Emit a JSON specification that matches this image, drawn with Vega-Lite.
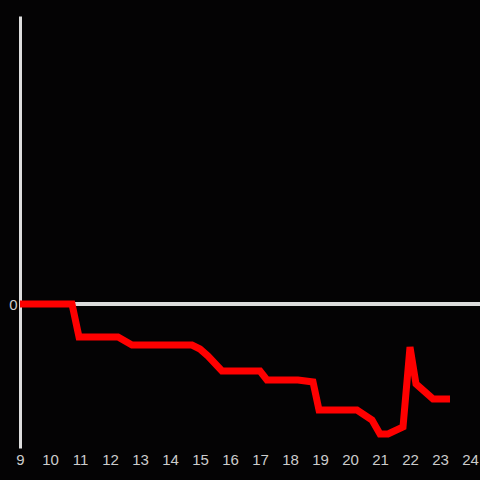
{
  "$schema": "https://vega.github.io/schema/vega-lite/v6.json",
  "width": 460,
  "height": 432,
  "autosize": "none",
  "padding": {"left": 20, "top": 16, "right": 0, "bottom": 32},
  "background": "#040304",
  "config": {"view": {"stroke": null}, "axis": {"labelFont": "Liberation Sans"}},
  "data": {"values": [
    {"x": 9, "y": 0},
    {"x": 10.733, "y": 0},
    {"x": 10.967, "y": -33},
    {"x": 12.267, "y": -33},
    {"x": 12.733, "y": -41},
    {"x": 14.733, "y": -41},
    {"x": 15.0, "y": -45},
    {"x": 15.267, "y": -52},
    {"x": 15.733, "y": -67},
    {"x": 17.0, "y": -67},
    {"x": 17.233, "y": -76},
    {"x": 18.267, "y": -76},
    {"x": 18.767, "y": -78},
    {"x": 18.967, "y": -106},
    {"x": 20.233, "y": -106},
    {"x": 20.733, "y": -116},
    {"x": 21.0, "y": -130},
    {"x": 21.267, "y": -130},
    {"x": 21.767, "y": -123},
    {"x": 22.0, "y": -43},
    {"x": 22.2, "y": -80},
    {"x": 22.767, "y": -95},
    {"x": 23.333, "y": -95}
  ]},
  "layer": [
    {
      "mark": {"type": "rule", "color": "#dddddd", "strokeWidth": 3},
      "encoding": {"y": {"datum": 0, "type": "quantitative", "scale": {"domain": [-144, 288], "nice": false, "zero": false}}}
    },
    {
      "mark": {"type": "line", "color": "#ff0000", "strokeWidth": 7},
      "encoding": {
        "x": {"field": "x", "type": "quantitative",
          "scale": {"domain": [9, 24.3333], "nice": false, "zero": false},
          "axis": {"values": [9,10,11,12,13,14,15,16,17,18,19,20,21,22,23,24], "domain": false, "ticks": false, "grid": false, "labelColor": "#cccccc", "labelFontSize": 15, "labelPadding": 4, "title": null, "labelFlush": false}},
        "y": {"field": "y", "type": "quantitative",
          "scale": {"domain": [-144, 288], "nice": false, "zero": false},
          "axis": {"values": [0], "domain": true, "domainColor": "#dddddd", "domainWidth": 3, "ticks": false, "grid": false, "labelColor": "#cccccc", "labelFontSize": 15, "labelPadding": 3, "title": null}}
      }
    }
  ]
}
